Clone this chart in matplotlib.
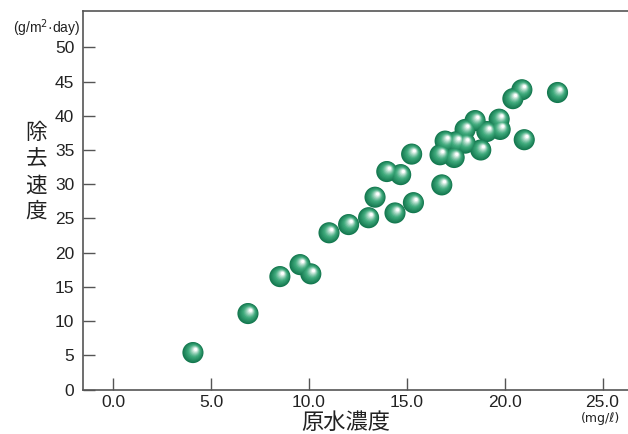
import matplotlib
matplotlib.use("Agg")
import matplotlib.pyplot as plt
import matplotlib.transforms as mtransforms
import numpy as np

# 原水濃度 (mg/l) vs 除去速度 (g/m2/day)
conc = [4.08, 6.89, 8.52, 9.55, 10.1, 11.03, 12.03, 13.05, 13.38, 13.98,
        14.69, 14.4, 15.34, 15.25, 16.79, 16.7, 16.96, 17.42, 17.52, 17.98,
        17.98, 18.49, 18.78, 19.09, 19.72, 19.77, 20.42, 20.88, 21.0, 22.7]
rate = [5.4, 11.1, 16.5, 18.25, 16.9, 22.9, 24.1, 25.1, 28.1, 31.85,
        31.4, 25.8, 27.3, 34.4, 29.9, 34.3, 36.3, 33.9, 36.2, 36.0,
        38.0, 39.3, 35.0, 37.7, 39.5, 38.0, 42.5, 43.8, 36.5, 43.4]

xticks = [0, 5, 10, 15, 20, 25]
xticklabels = ["0.0", "5.0", "10.0", "15.0", "20.0", "25.0"]
yticks = [0, 5, 10, 15, 20, 25, 30, 35, 40, 45, 50]

plt.rcParams['font.family'] = ['Liberation Sans', 'DejaVu Sans']
jp = ['Noto Sans CJK JP', 'DejaVu Sans']

fig = plt.figure(figsize=(6.28, 4.34), dpi=100)
ax = fig.add_axes([0.1317, 0.1025, 0.8683, 0.872])
ax.set_xlim(-1.55, 26.3)
ax.set_ylim(0, 55.3)

# shaded spheres: stacked circles shifted toward the highlight
dark = np.array([0.08, 0.47, 0.31])
mid = np.array([0.24, 0.66, 0.48])
white = np.array([1.0, 1.0, 1.0])
r = 7.6  # radius in points
nlay = 12
for i in range(nlay):
    t = i / (nlay - 1)
    rad = r * (1 - 0.85 * t)
    if t < 0.45:
        c = dark + (mid - dark) * (t / 0.45)
    else:
        c = mid + (white - mid) * ((t - 0.45) / 0.55) ** 1.2
    off = mtransforms.offset_copy(ax.transData, fig=fig,
                                  x=0.25 * r * t, y=0.30 * r * t, units='points')
    ax.scatter(conc, rate, s=(2 * rad) ** 2, color=c, edgecolors='none',
               transform=off, zorder=3 + i, clip_on=False)

ax.spines['right'].set_visible(False)
for s in ['left', 'bottom', 'top']:
    ax.spines[s].set_color('#555555')
    ax.spines[s].set_linewidth(1.2)

ax.set_xticks(xticks)
ax.set_xticklabels(xticklabels)
ax.set_yticks(yticks)
ax.tick_params(direction='in', length=8.5, width=1.0, color='#555555',
               labelsize=12.5, labelcolor='#222222')
ax.tick_params(axis='y', pad=6)
ax.tick_params(axis='x', pad=4)

fig.text(0.128, 0.934, "(g/m$^2$·day)", ha='right', va='center', fontsize=10,
         color='#222222')
fig.text(0.957, 0.036, "(mg/ℓ)", ha='center', va='center', fontsize=9,
         color='#222222', family=['DejaVu Sans'])
fig.text(0.058, 0.602, "除\n去\n速\n度", ha='center', va='center', fontsize=15.5,
         linespacing=1.25, family=jp, color='#222222')
fig.text(0.551, 0.0, "原水濃度", ha='center', va='bottom', fontsize=16,
         family=jp, color='#222222')

fig.savefig("out.png", dpi=100)
